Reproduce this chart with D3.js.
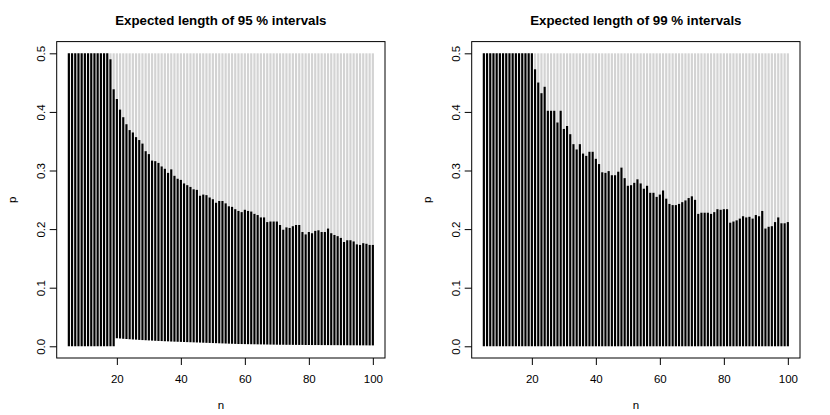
<!DOCTYPE html>
<html>
<head>
<meta charset="utf-8">
<script src="https://cdn.jsdelivr.net/npm/d3@7/dist/d3.min.js"></script>
<style>
  html, body { margin: 0; padding: 0; background: #ffffff; }
  svg { display: block; font-family: "Liberation Sans", Arial, Helvetica, sans-serif; }
</style>
</head>
<body>
<svg id="chart" width="830" height="415"></svg>
<script>
// ---- data ----
const nValues = [5,6,7,8,9,10,11,12,13,14,15,16,17,18,19,20,21,22,23,24,25,26,27,28,29,30,
  31,32,33,34,35,36,37,38,39,40,41,42,43,44,45,46,47,48,49,50,51,52,53,54,55,56,57,58,59,60,
  61,62,63,64,65,66,67,68,69,70,71,72,73,74,75,76,77,78,79,80,81,82,83,84,85,86,87,88,89,90,
  91,92,93,94,95,96,97,98,99,100];

// upper end of the black part, 95 % panel
const top95 = [0.5,0.5,0.5,0.5,0.5,0.5,0.5,0.5,0.5,0.5,0.5,0.5,0.5,0.49,0.4385,
  0.422,0.404,0.391,0.379,0.369,0.365,0.357,0.352,0.346,0.333,0.328,0.317,0.316,0.313,0.307,
  0.303,0.296,0.302,0.291,0.286,0.284,0.278,0.275,0.272,0.268,0.267,0.257,0.259,0.258,0.254,
  0.251,0.245,0.248,0.248,0.244,0.239,0.238,0.234,0.231,0.229,0.233,0.231,0.230,0.226,0.224,
  0.220,0.220,0.212,0.213,0.213,0.213,0.207,0.199,0.203,0.202,0.205,0.207,0.207,0.195,0.191,
  0.195,0.193,0.197,0.198,0.195,0.195,0.201,0.193,0.190,0.188,0.185,0.178,0.181,0.181,0.179,
  0.174,0.173,0.176,0.175,0.173,0.173];
// lower end of the black part, 95 % panel
const low95 = [0,0,0,0,0,0,0,0,0,0,0,0,0,0,0,
  0.0137,0.0133,0.0128,0.0124,0.0120,0.0116,0.0113,0.0109,0.0106,0.0103,0.0100,0.0097,0.0094,0.0091,0.0089,
  0.0086,0.0084,0.0081,0.0079,0.0077,0.0075,0.0073,0.0071,0.0069,0.0067,0.0065,0.0063,0.0061,0.0059,0.0057,
  0.0055,0.0053,0.0051,0.0049,0.0047,0.0045,0.0043,0.0041,0.0039,0.0038,0.0037,0.0036,0.0035,0.0034,0.0033,
  0.0032,0.0031,0.0030,0.0029,0.0028,0.0027,0.0026,0.0026,0.0025,0.0025,0.0024,0.0024,0.0023,0.0023,0.0022,
  0.0022,0.0021,0.0021,0.0021,0.0020,0.0020,0.0020,0.0019,0.0019,0.0019,0.0018,0.0018,0.0018,0.0017,0.0017,
  0.0017,0.0016,0.0016,0.0016,0.0015,0.0015];

// upper end of the black part, 99 % panel
const top99 = [0.5,0.5,0.5,0.5,0.5,0.5,0.5,0.5,0.5,0.5,0.5,0.5,0.5,0.5,0.5,0.5,
  0.473,0.450,0.432,0.443,0.402,0.402,0.402,0.382,0.402,0.371,0.376,0.362,0.345,0.336,
  0.345,0.329,0.325,0.332,0.332,0.320,0.311,0.297,0.296,0.299,0.292,0.292,0.298,0.305,0.287,
  0.274,0.275,0.279,0.285,0.278,0.269,0.274,0.262,0.262,0.255,0.259,0.266,0.252,0.243,0.241,
  0.241,0.243,0.246,0.249,0.253,0.256,0.250,0.226,0.228,0.228,0.228,0.226,0.229,0.234,0.233,
  0.234,0.234,0.211,0.213,0.215,0.218,0.222,0.220,0.221,0.218,0.224,0.222,0.231,0.201,0.204,
  0.205,0.212,0.220,0.210,0.210,0.212];
// lower end of the black part, 99 % panel
const low99 = [0,0,0,0,0,0,0,0,0,0,0,0,0,0,0,0,0,0,0,0,0,0,0,0,0,0,0,0,0,0,0,0,
  0,0,0,0,0,0,0,0,0,0,0,0,0,0,0,0,0,0,0,0,0,0,0,0,0,0,0,0,0,0,0,0,
  0,0,0,0,0,0,0,0,0,0,0,0,0,0,0,0,0,0,0,0,0,0,0,0,0,0,0,0,0,0,0,0];

const pMax = 0.5;               // grey part reaches up to p = 0.5
const xTicks = [20, 40, 60, 80, 100];
const yTicks = [0, 0.1, 0.2, 0.3, 0.4, 0.5];
const yTickLabels = ["0.0", "0.1", "0.2", "0.3", "0.4", "0.5"];
const titles = ["Expected length of 95 % intervals", "Expected length of 99 % intervals"];

// ---- drawing ----
const svg = d3.select("#chart");
svg.append("rect").attr("width", 830).attr("height", 415).attr("fill", "#fff");

const panelW = 415;
const box = { left: 56.7, right: 385, top: 41.6, bottom: 358 };

const x = d3.scaleLinear().domain([1.2, 103.8]).range([box.left, box.right]);
const y = d3.scaleLinear().domain([-0.02, 0.52]).range([box.bottom, box.top]);

const panels = [
  { title: titles[0], top: top95, low: low95 },
  { title: titles[1], top: top99, low: low99 }
];

panels.forEach((pan, i) => {
  const g = svg.append("g").attr("transform", `translate(${i * panelW},0)`);
  const rows = nValues.map((n, k) => ({ n, top: pan.top[k], low: pan.low[k] }));

  // grey part
  g.append("g").selectAll("line")
    .data(rows.filter(d => d.top < pMax))
    .join("line")
    .attr("x1", d => x(d.n)).attr("x2", d => x(d.n))
    .attr("y1", d => y(d.top)).attr("y2", d => y(pMax))
    .attr("stroke", "#d3d3d3").attr("stroke-width", 2.2);

  // black part
  g.append("g").selectAll("line")
    .data(rows)
    .join("line")
    .attr("x1", d => x(d.n)).attr("x2", d => x(d.n))
    .attr("y1", d => y(d.low)).attr("y2", d => y(d.top))
    .attr("stroke", "#000").attr("stroke-width", 2.2);

  // box
  g.append("rect")
    .attr("x", box.left).attr("y", box.top)
    .attr("width", box.right - box.left).attr("height", box.bottom - box.top)
    .attr("fill", "none").attr("stroke", "#000").attr("stroke-width", 1);

  // x axis
  const gx = g.append("g").attr("transform", `translate(0,${box.bottom})`)
    .call(d3.axisBottom(x).tickValues(xTicks).tickSize(7).tickSizeOuter(0).tickFormat(d3.format("d")));
  gx.select(".domain").remove();
  gx.selectAll("text").attr("y", 17).attr("dy", "0.71em")
    .attr("font-size", 11.5).attr("font-family", "Liberation Sans, Arial, sans-serif").attr("fill", "#000");

  // y axis
  const gy = g.append("g").attr("transform", `translate(${box.left},0)`)
    .call(d3.axisLeft(y).tickValues(yTicks).tickSize(7).tickSizeOuter(0)
      .tickFormat((d, k) => yTickLabels[k]));
  gy.select(".domain").remove();
  gy.selectAll("text")
    .attr("x", null).attr("dy", null)
    .attr("transform", "translate(-12,0) rotate(-90)")
    .attr("text-anchor", "middle")
    .attr("font-size", 11.5).attr("font-family", "Liberation Sans, Arial, sans-serif").attr("fill", "#000");

  // title
  g.append("text")
    .attr("x", (box.left + box.right) / 2).attr("y", 25)
    .attr("text-anchor", "middle").attr("font-weight", "bold").attr("font-size", 13.3)
    .text(pan.title);

  // axis titles
  g.append("text")
    .attr("x", (box.left + box.right) / 2).attr("y", 409)
    .attr("text-anchor", "middle").attr("font-size", 11.5).text("n");
  g.append("text")
    .attr("transform", `translate(16,${(box.top + box.bottom) / 2}) rotate(-90)`)
    .attr("text-anchor", "middle").attr("font-size", 11.5).text("p");
});
</script>
</body>
</html>
